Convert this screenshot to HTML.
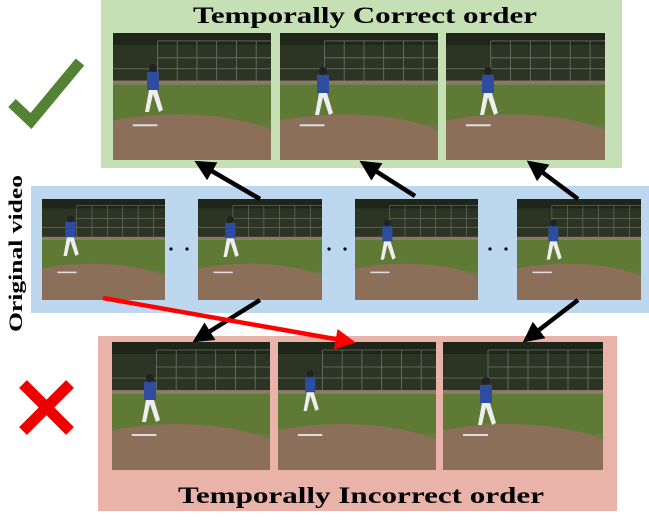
<!DOCTYPE html>
<html><head><meta charset="utf-8"><style>
html,body{margin:0;padding:0;background:#fff;}
svg{display:block;}
</style></head><body>
<svg width="649" height="520" viewBox="0 0 649 520" xmlns="http://www.w3.org/2000/svg">
<defs>
<symbol id="photo" viewBox="0 0 160 128" preserveAspectRatio="none">
<rect width="160" height="128" fill="#6b7a45"/>
<rect width="160" height="48" fill="#2c3424"/>
<rect x="0" y="0" width="160" height="12" fill="#1e2619"/>
<g stroke="#9aa09a" stroke-width="0.8" opacity="0.6">
<line x1="45" y1="8" x2="45" y2="50"/><line x1="65" y1="8" x2="65" y2="50"/><line x1="85" y1="8" x2="85" y2="50"/><line x1="105" y1="8" x2="105" y2="50"/><line x1="125" y1="8" x2="125" y2="50"/><line x1="145" y1="8" x2="145" y2="50"/>
<line x1="45" y1="8" x2="160" y2="8"/><line x1="45" y1="25" x2="160" y2="25"/><line x1="0" y1="36" x2="160" y2="36"/>
</g>
<rect x="0" y="48" width="160" height="4" fill="#8c7a68"/>
<rect x="0" y="52" width="160" height="40" fill="#5e7a34"/>
<ellipse cx="65" cy="118" rx="115" ry="36" fill="#8b6f58"/>
<rect x="0" y="110" width="160" height="18" fill="#8b6f58"/>
<rect x="20" y="92" width="25" height="2" fill="#ddd"/>
</symbol>
<symbol id="pitcher" viewBox="0 0 40 60">
<rect x="12" y="10" width="12" height="18" fill="#2e4da0"/>
<circle cx="18" cy="6" r="4" fill="#222"/>
<path d="M14 28 L10 50 L14 50 L18 32 L24 50 L28 48 L22 28Z" fill="#eee"/>
</symbol>
<marker id="ah" viewBox="0 0 10 10" refX="8" refY="5" markerWidth="4.6" markerHeight="4.6" orient="auto"><path d="M0 0 L10 5 L0 10 Z" fill="#000"/></marker>
<marker id="ahr" viewBox="0 0 10 10" refX="8" refY="5" markerWidth="4.6" markerHeight="4.6" orient="auto"><path d="M0 0 L10 5 L0 10 Z" fill="#f00"/></marker>
</defs>

<rect x="101" y="0" width="521" height="168" fill="#c5e0b4"/>
<text x="193" y="23" textLength="344" lengthAdjust="spacingAndGlyphs" font-family="Liberation Serif, serif" font-weight="bold" font-size="23">Temporally Correct order</text>
<use href="#photo" x="113" y="33" width="158" height="127"/>
<use href="#pitcher" x="135" y="62" width="40" height="60"/>
<use href="#photo" x="280" y="33" width="158" height="127"/>
<use href="#pitcher" x="305" y="65" width="40" height="60"/>
<use href="#photo" x="446" y="33" width="159" height="127"/>
<use href="#pitcher" x="470" y="65" width="40" height="60"/>

<polyline points="12,103 31,121 80,62" fill="none" stroke="#548235" stroke-width="11"/>

<rect x="31" y="186" width="618" height="127" fill="#bdd7ee"/>
<use href="#photo" x="42" y="199" width="123" height="101"/>
<use href="#pitcher" x="55" y="203" width="34" height="72"/>
<use href="#photo" x="198" y="199" width="124" height="101"/>
<use href="#pitcher" x="215" y="210" width="34" height="60"/>
<use href="#photo" x="355" y="199" width="123" height="101"/>
<use href="#pitcher" x="372" y="218" width="34" height="50"/>
<use href="#photo" x="517" y="199" width="124" height="101"/>
<use href="#pitcher" x="538" y="218" width="34" height="50"/>
<g fill="#000">
<circle cx="171" cy="249" r="1.6"/><circle cx="187" cy="249" r="1.6"/>
<circle cx="329" cy="249" r="1.6"/><circle cx="345" cy="249" r="1.6"/>
<circle cx="490" cy="249" r="1.6"/><circle cx="506" cy="249" r="1.6"/>
</g>
<text transform="translate(22,332) rotate(-90)" textLength="157" lengthAdjust="spacingAndGlyphs" font-family="Liberation Serif, serif" font-weight="bold" font-size="19">Original video</text>

<rect x="98" y="336" width="519" height="175" fill="#e9b3aa"/>
<use href="#photo" x="112" y="342" width="158" height="128"/>
<use href="#pitcher" x="132" y="372" width="40" height="60"/>
<use href="#photo" x="278" y="342" width="158" height="128"/>
<use href="#pitcher" x="295" y="350" width="34" height="88"/>
<use href="#photo" x="443" y="342" width="160" height="128"/>
<use href="#pitcher" x="468" y="375" width="40" height="60"/>
<text x="178" y="503" textLength="366" lengthAdjust="spacingAndGlyphs" font-family="Liberation Serif, serif" font-weight="bold" font-size="23">Temporally Incorrect order</text>

<g stroke="#e00" stroke-width="11"><line x1="23" y1="384" x2="70" y2="431"/><line x1="70" y1="384" x2="23" y2="431"/></g>

<g stroke="#000" stroke-width="4.5" marker-end="url(#ah)">
<line x1="260" y1="199" x2="198" y2="163"/>
<line x1="415" y1="196" x2="363" y2="163"/>
<line x1="578" y1="199" x2="530" y2="163"/>
<line x1="260" y1="300" x2="196" y2="340"/>
<line x1="578" y1="300" x2="526" y2="340"/>
</g>
<line x1="103" y1="298" x2="352" y2="342" stroke="#f00" stroke-width="4.5" marker-end="url(#ahr)"/>
</svg>
</body></html>
